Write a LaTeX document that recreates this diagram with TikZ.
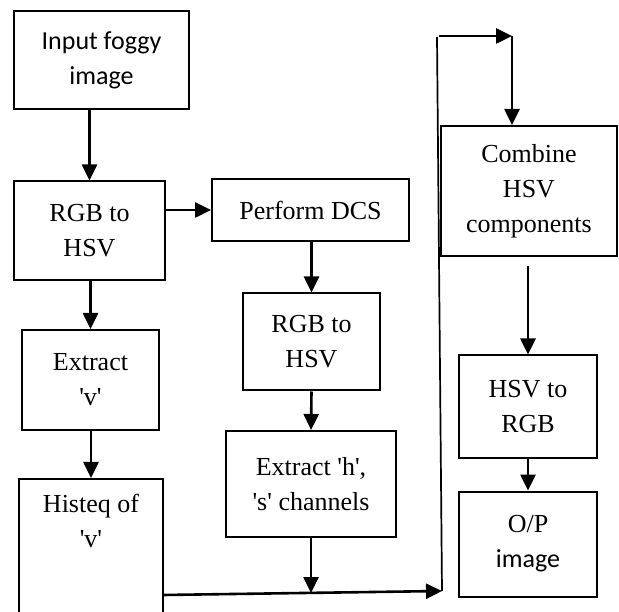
\documentclass[tikz,border=0pt]{standalone}
\usepackage{fontspec}
\newfontfamily\tnr{Liberation Serif}
\newfontfamily\calib{Carlito}
\usetikzlibrary{arrows.meta}
\begin{document}
\begin{tikzpicture}[x=1pt,y=-1pt,
  box/.style={draw, line width=2pt, inner sep=0pt, align=center,
    font=\tnr\fontsize{26}{35}\selectfont},
  sansbox/.style={box, font=\calib\fontsize{26}{35}\selectfont},
  conn/.style={line width=2.6pt, -{Triangle[length=16pt,width=15pt]}},
  plainline/.style={line width=1.7pt}]
\useasboundingbox (0,0) rectangle (619,612);
\clip (0,0) rectangle (619,612);
\fill[white] (0,0) rectangle (619,612);

\node[sansbox, minimum width=175pt, minimum height=98pt] (input) at (101.5,60) {Input foggy\\image};
\node[box, minimum width=151pt, minimum height=99pt] (rgb1) at (89.5,231) {RGB to\\HSV};
\node[box, minimum width=197pt, minimum height=62pt] (dcs) at (310.5,210) {Perform DCS};
\node[box, minimum width=137pt, minimum height=97pt] (rgb2) at (311.5,342) {RGB to\\HSV};
\node[box, minimum width=170pt, minimum height=106pt] (exths) at (311,484) {Extract 'h',\\'s' channels};
\node[box, minimum width=137pt, minimum height=100pt] (extv) at (90.5,380) {Extract\\'v'};
\node[box, minimum width=144pt, minimum height=161pt] (histeq) at (91,559.5) {};
\node[font=\tnr\fontsize{26}{35}\selectfont, align=center, inner sep=0pt] (histeqtext) at (91,521) {Histeq of\\'v'};
\node[box, minimum width=176pt, minimum height=130pt] (combine) at (529,191) {Combine\\HSV\\components};
\node[box, minimum width=138pt, minimum height=103pt] (hsv2rgb) at (528,407) {HSV to\\RGB};
\node[box, minimum width=138pt, minimum height=105pt] (op) at (528,544) {O/P\\{\calib image}};

\draw[conn] (input.south -| rgb1.north) -- (rgb1.north);
\draw[conn] (rgb1.east |- dcs.west) -- (dcs.west);
\draw[conn] (rgb2.north |- dcs.south) -- (rgb2.north);
\draw[conn] (rgb2.south) -- (exths.north);
\draw[conn] (rgb1.south -| extv.north) -- (extv.north);
\draw[conn] (extv.south -| histeq.north) -- (histeq.north);

\coordinate (j1) at (311,593);
\coordinate (h1) at (163,595);
\coordinate (c1) at (442,591);
\coordinate (c2) at (437,37);
\coordinate (c3) at (512,36);
\coordinate (c4) at (439,36);
\coordinate (cs) at ([yshift=-9pt]combine.south);

\draw[conn] (exths.south) -- (j1);
\draw[conn] (h1) -- (c1);
\draw[plainline] (c1) -- (c2);
\draw[conn] (c4) -- (c3);
\draw[conn] (c3) -- (c3 |- combine.north);
\draw[conn] (cs -| hsv2rgb.north) -- (hsv2rgb.north);
\draw[conn] (hsv2rgb.south) -- (op.north);
\end{tikzpicture}
\end{document}
